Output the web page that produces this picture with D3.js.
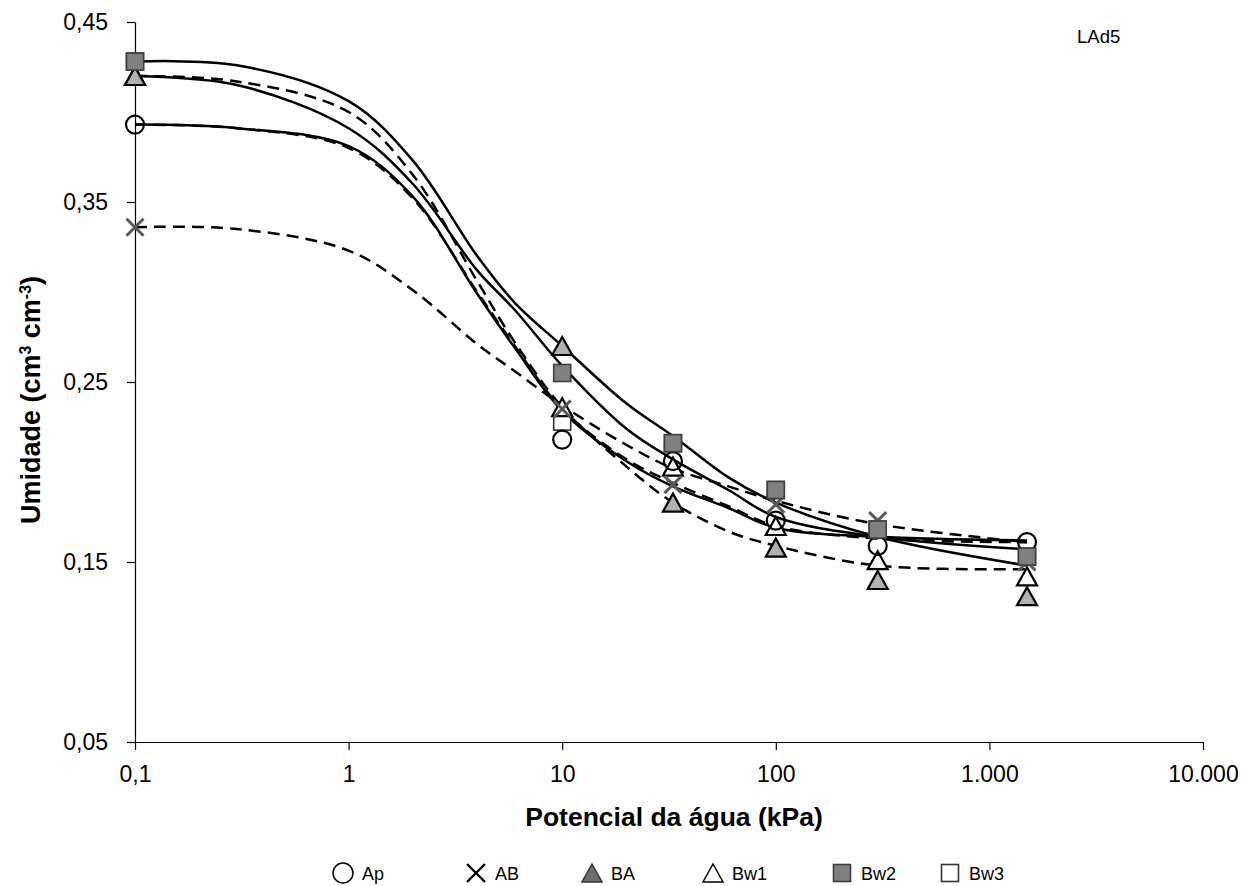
<!DOCTYPE html>
<html>
<head>
<meta charset="utf-8">
<script src="https://cdn.jsdelivr.net/npm/d3@7"></script>
<style>
  body { margin: 0; background: #fff; }
  text { font-family: "Liberation Sans", Arial, sans-serif; }
</style>
</head>
<body>
<svg id="chart" width="1244" height="886"></svg>
<script>
// measured points (kPa -> cm3 cm-3)
var potentials = [0.1, 10, 33, 100, 300, 1500];
var ap  = [0.393, 0.218, 0.206, 0.173, 0.159, 0.161];
var ab  = [0.336, 0.235, 0.193, 0.182, 0.173, 0.150];
var ba  = [0.420, 0.270, 0.183, 0.158, 0.140, 0.131];
var bw1 = [0.420, 0.236, 0.203, 0.170, 0.151, 0.142];
var bw2 = [0.428, 0.255, 0.216, 0.190, 0.168, 0.153];
var bw3 = [0.428, 0.228, 0.216, 0.190, 0.168, 0.153];

// fitted curves
var fitPotentials = [0.1, 0.3, 1, 2, 4, 6, 10, 20, 33, 60, 100, 300, 1500];
var apFit  = [0.393, 0.391, 0.381, 0.353, 0.299, 0.269, 0.234, 0.206, 0.192, 0.180, 0.169, 0.164, 0.162];
var abFit  = [0.336, 0.335, 0.323, 0.301, 0.271, 0.256, 0.237, 0.215, 0.202, 0.192, 0.184, 0.171, 0.161];
var baFit  = [0.420, 0.417, 0.400, 0.365, 0.306, 0.272, 0.236, 0.203, 0.183, 0.167, 0.159, 0.148, 0.146];
var bw1Fit = [0.420, 0.415, 0.391, 0.360, 0.312, 0.290, 0.259, 0.224, 0.207, 0.190, 0.175, 0.164, 0.157];
var bw2Fit = [0.428, 0.426, 0.406, 0.373, 0.320, 0.294, 0.270, 0.238, 0.220, 0.197, 0.183, 0.164, 0.148];
var bw3Fit = [0.393, 0.391, 0.380, 0.352, 0.300, 0.270, 0.235, 0.207, 0.194, 0.181, 0.170, 0.163, 0.161];

var xTicks = [0.1, 1, 10, 100, 1000, 10000];
var yTicks = [0.05, 0.15, 0.25, 0.35, 0.45];

var names = ["Ap", "AB", "BA", "Bw1", "Bw2", "Bw3"];

var svg = d3.select("#chart");

var x = d3.scaleLog().domain([0.1, 10000]).range([135, 1203]);
var y = d3.scaleLinear().domain([0.05, 0.45]).range([742, 22]);

var locale = d3.formatLocale({decimal: ",", thousands: ".", grouping: [3], currency: ["", ""]});
var fmtX = locale.format(",");
var fmtY = locale.format(".2f");

// axes
var xAxis = svg.append("g")
    .attr("transform", "translate(0,742)")
    .call(d3.axisBottom(x).tickValues(xTicks).tickFormat(fmtX)
        .tickSize(8).tickSizeOuter(0).tickPadding(16));

var yAxis = svg.append("g")
    .attr("transform", "translate(135,0)")
    .call(d3.axisLeft(y).tickValues(yTicks).tickFormat(fmtY)
        .tickSize(8).tickSizeOuter(0).tickPadding(19));

[xAxis, yAxis].forEach(function(g) {
    g.attr("font-family", null).attr("font-size", null);
    g.selectAll("path, line").attr("stroke", "#000").attr("stroke-width", 1.2);
    g.selectAll("text").attr("fill", "#000").style("font-size", "23px");
});

// axis titles
svg.append("text")
    .attr("x", 674).attr("y", 826)
    .attr("text-anchor", "middle")
    .style("font-size", "26.5px").style("font-weight", "bold")
    .text("Potencial da água (kPa)");

var yTitle = svg.append("text")
    .attr("transform", "translate(40,400) rotate(-90)")
    .attr("text-anchor", "middle")
    .style("font-size", "27px").style("font-weight", "bold");
yTitle.append("tspan").text("Umidade (cm");
yTitle.append("tspan").attr("dy", -9).style("font-size", "16px").text("3");
yTitle.append("tspan").attr("dy", 9).text(" cm");
yTitle.append("tspan").attr("dy", -9).style("font-size", "16px").text("-3");
yTitle.append("tspan").attr("dy", 9).text(")");

svg.append("text")
    .attr("x", 1077).attr("y", 43)
    .style("font-size", "18.5px")
    .text("LAd5");

// fitted lines
var fits = [
    {name: "Ap", values: apFit, dashed: false},
    {name: "AB", values: abFit, dashed: true},
    {name: "BA", values: baFit, dashed: true},
    {name: "Bw1", values: bw1Fit, dashed: false},
    {name: "Bw2", values: bw2Fit, dashed: false},
    {name: "Bw3", values: bw3Fit, dashed: true}
];

var line = d3.line()
    .x(function(d) { return x(d[0]); })
    .y(function(d) { return y(d[1]); })
    .curve(d3.curveCatmullRom.alpha(0.5));

svg.append("g")
    .selectAll("path")
    .data(fits)
    .enter()
    .append("path")
    .attr("d", function(s) {
        return line(fitPotentials.map(function(p, i) { return [p, s.values[i]]; }));
    })
    .attr("fill", "none")
    .attr("stroke", "#000")
    .attr("stroke-width", 2.5)
    .attr("stroke-dasharray", function(s) { return s.dashed ? "12,7" : null; });

// marker shapes
function drawMarker(g, type, cx, cy, legend) {
    if (type === "circle") {
        g.append("circle").attr("cx", cx).attr("cy", cy).attr("r", legend ? 10 : 9)
            .attr("fill", "none").attr("stroke", "#000").attr("stroke-width", legend ? 1.5 : 2.2);
    } else if (type === "x") {
        var s = legend ? 9 : 8.5;
        g.append("path")
            .attr("d", "M" + (cx - s) + "," + (cy - s) + "L" + (cx + s) + "," + (cy + s) +
                       "M" + (cx - s) + "," + (cy + s) + "L" + (cx + s) + "," + (cy - s))
            .attr("stroke", legend ? "#000" : "#595959").attr("stroke-width", legend ? 2.4 : 3).attr("fill", "none");
    } else if (type === "triFill" || type === "triOpen") {
        var w = 10, h = 9;
        g.append("path")
            .attr("d", "M" + cx + "," + (cy - h) + "L" + (cx + w) + "," + (cy + h) + "L" + (cx - w) + "," + (cy + h) + "Z")
            .attr("fill", type === "triFill" ? (legend ? "#6e6e6e" : "#b3b0b0") : "#fff")
            .attr("stroke", type === "triFill" && legend ? "#333" : "#000")
            .attr("stroke-width", legend ? 1.5 : 2.2);
    } else if (type === "sqFill" || type === "sqOpen") {
        var a = 8.5;
        g.append("rect").attr("x", cx - a).attr("y", cy - a).attr("width", 2 * a).attr("height", 2 * a)
            .attr("fill", type === "sqFill" ? "#808080" : "#fff")
            .attr("stroke", type === "sqFill" ? "#404040" : "#333")
            .attr("stroke-width", 1.6);
    }
}

// points, drawn in the order the overlaps show
var pointSeries = [
    {name: "Bw3", values: bw3, type: "sqOpen"},
    {name: "Bw1", values: bw1, type: "triOpen"},
    {name: "Ap", values: ap, type: "circle"},
    {name: "AB", values: ab, type: "x"},
    {name: "BA", values: ba, type: "triFill"},
    {name: "Bw2", values: bw2, type: "sqFill"}
];

var marks = svg.append("g");
pointSeries.forEach(function(s) {
    var g = marks.append("g").attr("class", "series-" + s.name);
    potentials.forEach(function(p, i) {
        drawMarker(g, s.type, x(p), y(s.values[i]), false);
    });
});

// legend
var legendTypes = ["circle", "x", "triFill", "triOpen", "sqFill", "sqOpen"];
var legendX = [343, 476, 592, 713, 842, 950];
var legend = svg.append("g");
names.forEach(function(n, i) {
    drawMarker(legend, legendTypes[i], legendX[i], 873, true);
    legend.append("text")
        .attr("x", legendX[i] + 19).attr("y", 880)
        .style("font-size", "18px")
        .text(n);
});
</script>
</body>
</html>
